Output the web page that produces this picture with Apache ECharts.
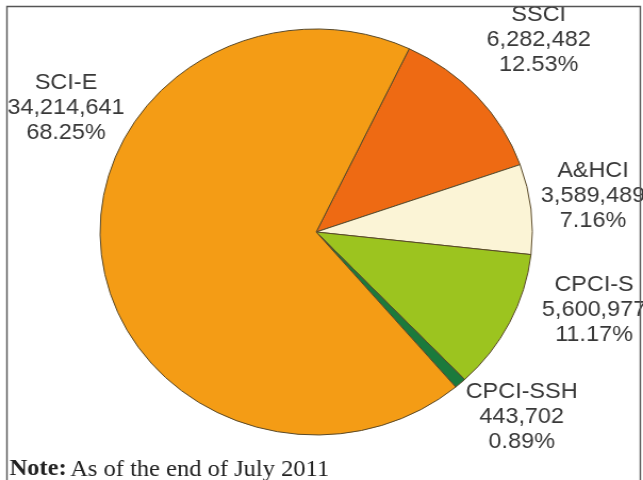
<!DOCTYPE html>
<html>
<head>
<meta charset="utf-8">
<script src="https://cdn.jsdelivr.net/npm/echarts@6/dist/echarts.min.js"></script>
<style>
html,body{margin:0;padding:0;background:#fff;overflow:hidden;}
#wrap{width:643px;height:480px;overflow:hidden;position:relative;}
#chart{width:604px;height:480px;transform:scaleX(1.0646);transform-origin:0 0;}
</style>
</head>
<body>
<div id="wrap"><div id="chart"></div></div>
<script>
// Data (clockwise from the top boundary)
var categories = ['SSCI', 'A&HCI', 'CPCI-S', 'CPCI-SSH', 'SCI-E'];
var values = [6282482, 3589489, 5600977, 443702, 34214641];
var percents = ['12.53%', '7.16%', '11.17%', '0.89%', '68.25%'];
var noteText = 'As of the end of July 2011';

// Styles / layout
var colors = ['#EE6A13', '#FBF4D6', '#9CC41F', '#1B7A3C', '#F49C15'];
var labelPos = [[506, 40], [557, 196], [558, 310], [490, 417], [62, 108]];

var data = categories.map(function (c, i) {
  return { name: c, value: values[i], itemStyle: { color: colors[i] } };
});

var chart = echarts.init(document.getElementById('chart'));
chart.setOption({
  animation: false,
  backgroundColor: '#ffffff',
  graphic: [
    { type: 'rect', shape: { x: 6.5, y: 6.5, width: 595, height: 600 },
      style: { fill: 'none', stroke: '#555', lineWidth: 1.4 }, z: 100 },
    { type: 'text', left: 9, top: 458,
      style: { text: '{b|Note:} {r|' + noteText + '}',
        rich: {
          b: { fontFamily: 'Liberation Serif', fontWeight: 'bold', fontSize: 23, lineHeight: 23, fill: '#222' },
          r: { fontFamily: 'Liberation Serif', fontSize: 23, lineHeight: 23, fill: '#222' }
        } } }
  ],
  series: [{
    type: 'pie',
    center: [297, 232],
    radius: 203,
    startAngle: 64.5,
    clockwise: true,
    avoidLabelOverlap: false,
    itemStyle: { borderColor: '#5a4a2a', borderWidth: 1 },
    emphasis: { disabled: true },
    label: {
      show: true,
      position: 'inside',
      formatter: function (p) {
        return p.name + '\n' + values[p.dataIndex].toLocaleString('en-US') + '\n' + percents[p.dataIndex];
      },
      fontFamily: 'Liberation Sans, Arial, sans-serif',
      fontSize: 22,
      lineHeight: 25,
      color: '#383838',
      align: 'center'
    },
    labelLine: { show: false },
    labelLayout: function (p) {
      var pos = labelPos[p.dataIndex];
      return { x: pos[0], y: pos[1], align: 'center', verticalAlign: 'middle' };
    },
    data: data
  }]
});
</script>
</body>
</html>
